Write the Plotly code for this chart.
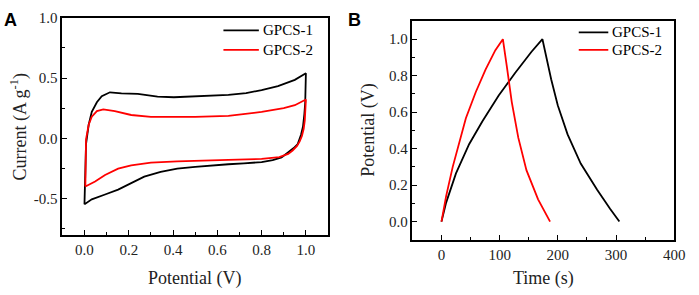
import plotly.graph_objects as go

# ---- Panel A: CV curves (Potential V, Current A/g) ----
cv1_v = [0.0, 0.002, 0.007, 0.019, 0.033, 0.056, 0.078, 0.115, 0.167, 0.241, 0.33, 0.404, 0.5, 0.58,
         0.65, 0.73, 0.8, 0.874, 0.95, 1.0,
         0.999, 0.997, 0.993, 0.987, 0.978, 0.963, 0.945, 0.93, 0.91, 0.89, 0.85, 0.80, 0.72, 0.65,
         0.5, 0.419, 0.344, 0.27, 0.211, 0.152, 0.093, 0.033, 0.001, 0.0]
cv1_i = [-0.545, -0.3, -0.048, 0.113, 0.22, 0.30, 0.349, 0.382, 0.374, 0.369, 0.347, 0.341, 0.349, 0.352,
         0.36, 0.376, 0.4, 0.434, 0.485, 0.54,
         0.4, 0.3, 0.2, 0.1, 0.03, -0.047, -0.08, -0.103, -0.135, -0.158, -0.18, -0.196, -0.207, -0.214,
         -0.236, -0.25, -0.277, -0.317, -0.37, -0.424, -0.465, -0.505, -0.545, -0.545]

cv2_v = [0.004, 0.005, 0.007, 0.019, 0.033, 0.056, 0.085, 0.137, 0.211, 0.3, 0.419, 0.5, 0.65, 0.8,
         0.9, 0.95, 1.0,
         0.999, 0.995, 0.99, 0.982, 0.972, 0.96, 0.94, 0.92, 0.88, 0.85, 0.8, 0.65, 0.5, 0.419, 0.3,
         0.211, 0.152, 0.093, 0.048, 0.004]
cv2_i = [-0.398, -0.2, -0.008, 0.113, 0.18, 0.226, 0.24, 0.226, 0.194, 0.178, 0.175, 0.178, 0.186, 0.22,
         0.25, 0.275, 0.322,
         0.25, 0.15, 0.08, 0.02, -0.025, -0.062, -0.1, -0.128, -0.155, -0.163, -0.17, -0.178, -0.182,
         -0.19, -0.2, -0.223, -0.25, -0.303, -0.357, -0.398]

# ---- Panel B: GCD curves (Time s, Potential V) ----
gcd1_t = [0, 8, 24.9, 47.5, 70.1, 98.3, 126.5, 154.7, 173.5,
          180, 188.5, 199.8, 216.7, 239.3, 267.5, 290, 305.7]
gcd1_v = [0.0, 0.104, 0.264, 0.424, 0.549, 0.691, 0.815, 0.931, 1.0,
          0.904, 0.78, 0.638, 0.478, 0.318, 0.175, 0.069, 0.0]

gcd2_t = [0, 8, 19.3, 30.6, 41.9, 58.8, 75.7, 92.6, 105.5,
          112.3, 120.8, 132, 146, 166, 186.6]
gcd2_v = [0.0, 0.14, 0.30, 0.44, 0.567, 0.709, 0.833, 0.94, 1.0,
          0.851, 0.655, 0.46, 0.282, 0.122, 0.0]

series_names = ["GPCS-1", "GPCS-2"]
colors = ["#000000", "#ff0000"]

FONT = "Liberation Serif, serif"

fig = go.Figure()
for xs, ys, k, xa, ya in [(cv1_v, cv1_i, 0, "x", "y"), (cv2_v, cv2_i, 1, "x", "y"),
                          (gcd1_t, gcd1_v, 0, "x2", "y2"), (gcd2_t, gcd2_v, 1, "x2", "y2")]:
    fig.add_trace(go.Scatter(x=xs, y=ys, mode="lines", line=dict(color=colors[k], width=1.8),
                             name=series_names[k], xaxis=xa, yaxis=ya, showlegend=False))

# legend samples (layout positions in axis coordinates)
leg = [("x", "y", -0.1 + 1.2 * (227 - 63.3) / 270, -0.1 + 1.2 * (263 - 63.3) / 270,
        [1.0 - 1.8 * (23 - 10) / 223.3, 1.0 - 1.8 * (43 - 10) / 223.3]),
       ("x2", "y2", -50 + 450 * (588 - 419) / 266, -50 + 450 * (618 - 419) / 266,
        [1.1 - 1.2 * (25 - 13.3) / 225, 1.1 - 1.2 * (43 - 13.3) / 225])]
shapes = []
annotations = []
for xa, ya, x0, x1, ys in leg:
    for k in range(2):
        shapes.append(dict(type="line", xref=xa, yref=ya, x0=x0, x1=x1, y0=ys[k], y1=ys[k],
                           line=dict(color=colors[k], width=1.8)))
        annotations.append(dict(x=x1, y=ys[k], xref=xa, yref=ya, text=series_names[k], showarrow=False,
                                xanchor="left", yanchor="middle", xshift=2,
                                font=dict(family=FONT, size=15, color="#000")))

tickfont = dict(family=FONT, size=15, color="#222")
common = dict(showline=True, linecolor="black", linewidth=1.5, mirror=True, ticks="inside",
              ticklen=5, tickwidth=1.2, tickcolor="black", showgrid=False, zeroline=False,
              tickfont=tickfont)

fig.update_layout(
    width=699, height=295, margin=dict(l=0, r=0, t=0, b=0),
    font=dict(family=FONT, size=15, color="#222"),
    paper_bgcolor="white", plot_bgcolor="white", showlegend=False,
    xaxis=dict(domain=[0.0906, 0.4768], range=[-0.1, 1.1], tickvals=[0, 0.2, 0.4, 0.6, 0.8, 1.0],
               ticktext=["0.0", "0.2", "0.4", "0.6", "0.8", "1.0"],
               minor=dict(dtick=0.1, tick0=0, ticks="inside", ticklen=3, tickcolor="black"), anchor="y", **common),
    yaxis=dict(domain=[0.2092, 0.9661], range=[-0.8, 1.0], tickvals=[-0.5, 0, 0.5, 1.0],
               ticktext=["-0.5", "0.0", "0.5", "1.0"],
               minor=dict(dtick=0.25, tick0=0, ticks="inside", ticklen=3, tickcolor="black"), anchor="x", **common),
    xaxis2=dict(domain=[0.5994, 0.98], range=[-50, 400], tickvals=[0, 100, 200, 300, 400],
                minor=dict(dtick=50, tick0=0, ticks="inside", ticklen=3, tickcolor="black"), anchor="y2", **common),
    yaxis2=dict(domain=[0.1922, 0.9549], range=[-0.1, 1.1], tickvals=[0, 0.2, 0.4, 0.6, 0.8, 1.0],
                ticktext=["0.0", "0.2", "0.4", "0.6", "0.8", "1.0"],
                minor=dict(dtick=0.1, tick0=0, ticks="inside", ticklen=3, tickcolor="black"), anchor="x2", **common),
    shapes=shapes,
)

title_font = dict(family=FONT, size=18, color="#222")
annotations += [
    dict(x=198 / 699, y=1 - 278 / 295, xref="paper", yref="paper", text="Potential (V)", showarrow=False,
         font=title_font, xanchor="center", yanchor="middle"),
    dict(x=552 / 699, y=1 - 278 / 295, xref="paper", yref="paper", text="Time (s)", showarrow=False,
         font=title_font, xanchor="center", yanchor="middle"),
    dict(x=19 / 699, y=1 - 122 / 295, xref="paper", yref="paper", text="Current (A g<sup>-1</sup>)",
         showarrow=False, font=title_font, textangle=-90, xanchor="center", yanchor="middle"),
    dict(x=374 / 699, y=1 - 126 / 295, xref="paper", yref="paper", text="Potential (V)",
         showarrow=False, font=title_font, textangle=-90, xanchor="center", yanchor="middle"),
    dict(x=2 / 699, y=1 - 12 / 295, xref="paper", yref="paper", text="<b>A</b>", showarrow=False,
         font=dict(family="Liberation Sans, Arial, sans-serif", size=18, color="#000"),
         xanchor="left", yanchor="middle"),
    dict(x=352 / 699, y=1 - 12 / 295, xref="paper", yref="paper", text="<b>B</b>", showarrow=False,
         font=dict(family="Liberation Sans, Arial, sans-serif", size=18, color="#000"),
         xanchor="left", yanchor="middle"),
]
fig.update_layout(annotations=annotations)

fig.write_html("out.html", config={"displayModeBar": False},
               post_script="document.body.style.margin='0px';document.body.style.overflow='hidden';")
